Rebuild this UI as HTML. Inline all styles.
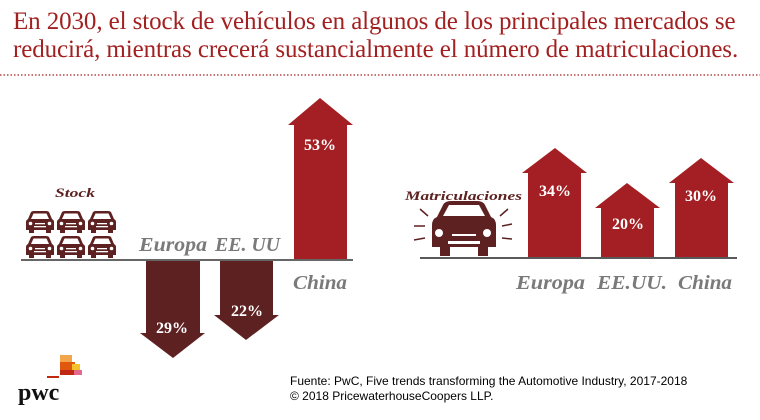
<!DOCTYPE html>
<html><head><meta charset="utf-8"><style>
body{margin:0;background:#fff;width:760px;height:420px;overflow:hidden;position:relative;font-family:"Liberation Serif",serif}
.t{position:absolute;left:13px;top:8px;color:#a32020;font-size:25px;line-height:28px;letter-spacing:-0.1px;white-space:nowrap}
.src{position:absolute;left:290px;top:374px;font-family:"Liberation Sans",sans-serif;font-size:12px;line-height:15px;color:#000}
</style></head><body>
<div class="t">En 2030, el stock de vehículos en algunos de los principales mercados se<br>reducirá, mientras crecerá sustancialmente el número de matriculaciones.</div>
<svg width="760" height="420" style="position:absolute;left:0;top:0" font-family="Liberation Serif, serif">
<defs>
<g id="car">
<path d="M2,8 l3,-7 q1,-1 3,-1 h12 q2,0 3,1 l3,7 q2,1 2,3 v8 h-3 v3 h-5 v-3 h-12 v3 h-5 v-3 h-3 v-8 q0,-2 2,-3z" fill="#5e2121"/>
<path d="M5,8 l2.5,-5.5 h13 l2.5,5.5z" fill="#fff"/>
<circle cx="4.5" cy="12.5" r="1.8" fill="#fff"/><circle cx="23.5" cy="12.5" r="1.8" fill="#fff"/>
<rect x="9" y="12" width="10" height="1.3" fill="#fff"/><rect x="8" y="15" width="12" height="1.3" fill="#fff"/>
</g>
</defs>
<line x1="0" y1="75" x2="760" y2="75" stroke="#a32020" stroke-width="1.2" stroke-dasharray="1.5,2"/>
<line x1="21" y1="260" x2="353" y2="260" stroke="#333" stroke-width="1.5"/>
<polygon points="146,261 200,261 200,333 205,333 173,358 140,333 146,333" fill="#5e2121"/>
<polygon points="220,261 273,261 273,315 279,315 246,340 214,315 220,315" fill="#5e2121"/>
<polygon points="294,259 347,259 347,125 353,125 320,98 288,125 294,125" fill="#a31f23"/>
<line x1="420" y1="258" x2="737" y2="258" stroke="#222" stroke-width="1.5"/>
<polygon points="528,257 581,257 581,173 587,173 555,148 522,173 528,173" fill="#a31f23"/>
<polygon points="601,257 654,257 654,208 660,208 627,183 595,208 601,208" fill="#a31f23"/>
<polygon points="675,257 728,257 728,183 734,183 701,158 669,183 675,183" fill="#a31f23"/>
<g fill="#fff" font-weight="bold" font-size="16" text-anchor="middle">
<text x="172" y="333">29%</text><text x="247" y="316">22%</text><text x="320" y="150">53%</text>
<text x="555" y="196">34%</text><text x="628" y="229">20%</text><text x="701" y="201">30%</text>
</g>
<g fill="#7a7a7a" font-weight="bold" font-style="italic" font-size="20">
<text x="139" y="251" textLength="68" lengthAdjust="spacingAndGlyphs">Europa</text>
<text x="215" y="251" textLength="65" lengthAdjust="spacingAndGlyphs">EE. UU</text>
<text x="293" y="289" textLength="54" lengthAdjust="spacingAndGlyphs">China</text>
<text x="516" y="289" textLength="69" lengthAdjust="spacingAndGlyphs">Europa</text>
<text x="597" y="289" textLength="70" lengthAdjust="spacingAndGlyphs">EE.UU.</text>
<text x="678" y="289" textLength="54" lengthAdjust="spacingAndGlyphs">China</text>
</g>
<g fill="#5e2121" font-weight="bold" font-style="italic" font-size="13">
<text x="55" y="197" textLength="40" lengthAdjust="spacingAndGlyphs">Stock</text>
<text x="405" y="200" textLength="117" lengthAdjust="spacingAndGlyphs">Matriculaciones</text>
</g>
<use href="#car" x="26" y="211"/><use href="#car" x="57" y="211"/><use href="#car" x="88" y="211"/>
<use href="#car" x="26" y="236"/><use href="#car" x="57" y="236"/><use href="#car" x="88" y="236"/>
<path d="M432,247 v-22 q0,-6 5,-8 l6,-12 q2,-4 8,-4 h26 q6,0 8,4 l6,12 q5,2 5,8 v22 h-8 v9 h-10 v-9 h-28 v9 h-10 v-9z" fill="#5e2121"/>
<path d="M443,216 l6,-11 h30 l6,11z" fill="#fff"/>
<circle cx="439" cy="233" r="4" fill="#fff"/><circle cx="487" cy="233" r="4" fill="#fff"/>
<rect x="452" y="234" width="24" height="2" fill="#fff"/><rect x="448" y="241" width="32" height="3" fill="#fff"/>
<g stroke="#5e2121" stroke-width="1.5">
<line x1="420" y1="209" x2="428" y2="216"/><line x1="414" y1="226" x2="425" y2="226"/><line x1="414" y1="240" x2="425" y2="238"/>
<line x1="508" y1="209" x2="500" y2="216"/><line x1="502" y1="226" x2="512" y2="224"/><line x1="502" y1="238" x2="512" y2="239"/>
</g>
<rect x="60" y="355" width="12" height="10" fill="#f2a54a"/>
<rect x="60" y="362" width="15" height="10" fill="#e0570f"/>
<rect x="72" y="364" width="8" height="10" fill="#f5c22b"/>
<rect x="60" y="370" width="14" height="5" fill="#c0280f"/>
<rect x="74" y="370" width="8" height="5" fill="#e36a8c"/>
<rect x="47" y="376" width="12" height="2" fill="#c0280f"/>
<text x="18" y="400" font-size="24" font-weight="bold" fill="#111">pwc</text>
</svg>
<div class="src">Fuente: PwC, Five trends transforming the Automotive Industry, 2017-2018<br>© 2018 PricewaterhouseCoopers LLP.</div>
</body></html>
